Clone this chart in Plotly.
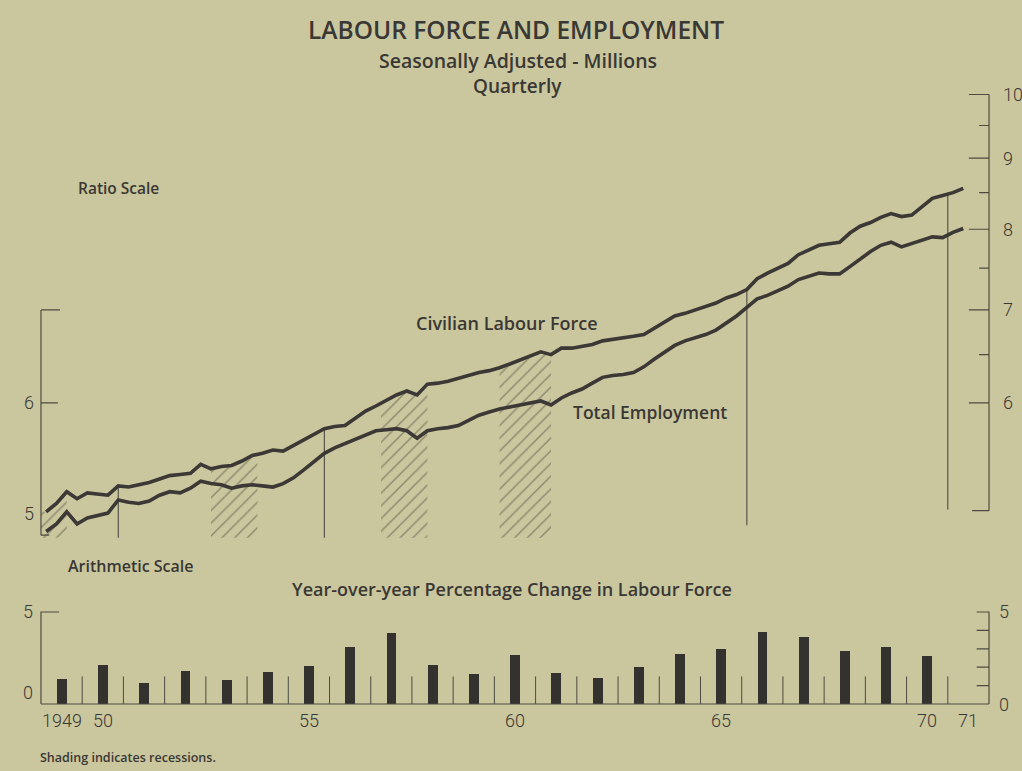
import numpy as np
import plotly.graph_objects as go

# ---------------- data ----------------
first_quarter = 1949.125          # 1949 Q1 (mid-quarter position)
labour_force = [5.01, 5.08, 5.18, 5.12, 5.17, 5.16, 5.15, 5.23, 5.22, 5.24,
                5.26, 5.29, 5.32, 5.33, 5.34, 5.42, 5.38, 5.40, 5.41, 5.45,
                5.50, 5.52, 5.55, 5.54, 5.59, 5.64, 5.70, 5.75, 5.77, 5.78,
                5.85, 5.92, 5.97, 6.02, 6.08, 6.12, 6.08, 6.19, 6.20, 6.22,
                6.25, 6.28, 6.31, 6.33, 6.36, 6.40, 6.44, 6.49, 6.53, 6.50,
                6.57, 6.57, 6.59, 6.61, 6.65, 6.67, 6.68, 6.70, 6.72, 6.79,
                6.87, 6.93, 6.96, 7.00, 7.03, 7.08, 7.14, 7.18, 7.24, 7.37,
                7.44, 7.50, 7.56, 7.67, 7.73, 7.79, 7.81, 7.83, 7.95, 8.04,
                8.09, 8.16, 8.21, 8.17, 8.19, 8.31, 8.42, 8.46, 8.50, 8.56]
employment = [4.85, 4.91, 5.01, 4.91, 4.96, 4.98, 5.00, 5.11, 5.09, 5.08,
              5.10, 5.15, 5.18, 5.17, 5.21, 5.27, 5.25, 5.24, 5.21, 5.23,
              5.24, 5.23, 5.22, 5.25, 5.30, 5.37, 5.44, 5.52, 5.57, 5.61,
              5.65, 5.69, 5.73, 5.74, 5.75, 5.73, 5.66, 5.73, 5.75, 5.76,
              5.78, 5.83, 5.88, 5.91, 5.94, 5.96, 5.98, 6.00, 6.02, 5.98,
              6.05, 6.10, 6.14, 6.20, 6.26, 6.28, 6.29, 6.31, 6.37, 6.45,
              6.52, 6.60, 6.65, 6.68, 6.72, 6.77, 6.85, 6.93, 7.03, 7.13,
              7.17, 7.23, 7.28, 7.36, 7.40, 7.44, 7.43, 7.43, 7.52, 7.62,
              7.71, 7.79, 7.83, 7.77, 7.81, 7.86, 7.90, 7.89, 7.96, 8.01]

years = list(range(1949, 1971))
pct_change = [1.35, 2.10, 1.15, 1.80, 1.30, 1.73, 2.04, 3.06, 3.86, 2.09, 1.64,
              2.67, 1.68, 1.39, 2.00, 2.69, 2.99, 3.90, 3.64, 2.87, 3.08, 2.60]

recession_start = [1949.0, 1953.125, 1957.25, 1960.125]
recession_end = [1949.625, 1954.25, 1958.375, 1961.375]

break_dates = [1950.875, 1955.875, 1966.125, 1971.0]
break_bottoms = [4.80, 4.80, 4.90, 5.03]

x_tick_vals = [1949, 1950, 1955, 1960, 1965, 1970, 1971]
x_tick_text = ["1949", "50", "55", "60", "65", "70", "71"]
left_ratio_ticks = [5, 6]
right_ratio_ticks = [6, 7, 8, 9, 10]
right_ratio_minor = [6.5, 7.5, 8.5, 9.5]
pct_ticks_right = [1, 2, 3, 4, 5]

# ---------------- style ----------------
W, H = 1022, 771
BG = "#cac69e"
INK = "#3a3834"
AX = "#4d4b42"
FONT = "'Open Sans', Lato, sans-serif"
NUMFONT = "Roboto, 'Liberation Sans Narrow', sans-serif"

quarters = first_quarter + 0.25 * np.arange(len(labour_force))

fig = go.Figure()

# recession hatching (bounded by the labour force line)
for s, e in zip(recession_start, recession_end):
    inside = [q for q in quarters if s < q < e]
    xs = [s] + inside + [e]
    ys = list(np.interp(xs, quarters, labour_force))
    xs = xs + [e, s, s]
    ys = ys + [4.80, 4.80, ys[0]]
    fig.add_trace(go.Scatter(
        x=xs, y=ys, mode="lines", line=dict(width=0, color="rgba(0,0,0,0)"),
        fill="toself", fillcolor="rgba(0,0,0,0)",
        fillpattern=dict(shape="/", size=9, solidity=0.16, fgcolor="#4f4d40",
                         bgcolor="rgba(0,0,0,0)"),
        hoverinfo="skip", showlegend=False, xaxis="x", yaxis="y"))

# series-break vertical lines
bx, by = [], []
for d, b in zip(break_dates, break_bottoms):
    top = float(np.interp(d, quarters, labour_force))
    bx += [d, d, None]
    by += [b, top, None]
fig.add_trace(go.Scatter(x=bx, y=by, mode="lines", line=dict(color=AX, width=1.1),
                         hoverinfo="skip", showlegend=False, xaxis="x", yaxis="y"))

# main lines
for series, name in [(labour_force, "Civilian Labour Force"), (employment, "Total Employment")]:
    fig.add_trace(go.Scatter(x=quarters, y=series, mode="lines", name=name,
                             line=dict(color="#3b3835", width=3.6),
                             showlegend=False, xaxis="x", yaxis="y"))

# ratio-scale axis brackets
lx = [1949, 1949, None, 1949, 1949.46, None, 1949, 1949.41, None, 1949, 1949.2]
ly = [4.82, 7.0, None, 7.0, 7.0, None, 6.0, 6.0, None, 4.82, 4.82]
rx = [1972, 1972, None, 1972, 1971.59]
ry = [5.02, 10.0, None, 5.02, 5.02]
for v in right_ratio_ticks:
    rx += [None, 1972, 1971.51]
    ry += [None, v, v]
for v in right_ratio_minor:
    rx += [None, 1972, 1971.76]
    ry += [None, v, v]
fig.add_trace(go.Scatter(x=lx + [None] + rx, y=ly + [None] + ry, mode="lines",
                         line=dict(color=AX, width=1.2), hoverinfo="skip",
                         showlegend=False, xaxis="x", yaxis="y"))

# ---------------- bottom bar chart ----------------
fig.add_trace(go.Bar(x=[y + 0.5 for y in years], y=pct_change, width=0.24,
                     marker=dict(color="#34322e", line=dict(width=0)),
                     showlegend=False, xaxis="x2", yaxis="y2"))

# year separators, baseline and brackets
sx, sy = [], []
for y in range(years[0] + 1, 1972):
    sx += [y, y, None]
    sy += [0, 1.5, None]
fig.add_trace(go.Scatter(x=sx, y=sy, mode="lines", line=dict(color=AX, width=1),
                         hoverinfo="skip", showlegend=False, xaxis="x2", yaxis="y2"))
bxs = [1949, 1972, None, 1949, 1949, 1949.44, None, 1972, 1972, 1971.7]
bys = [0, 0, None, 0, 5, 5, None, 0, 5, 5]
for v in pct_ticks_right[:-1]:
    bxs += [None, 1972, 1971.7]
    bys += [None, v, v]
fig.add_trace(go.Scatter(x=bxs, y=bys, mode="lines", line=dict(color=AX, width=1.2),
                         hoverinfo="skip", showlegend=False, xaxis="x2", yaxis="y2"))

# ---------------- layout ----------------
xdom = [0.03405, 0.97378]
fig.update_layout(
    width=W, height=H, margin=dict(l=0, r=0, t=0, b=0),
    paper_bgcolor=BG, plot_bgcolor="rgba(0,0,0,0)",
    xaxis=dict(domain=xdom, range=[1948.85, 1972.15], visible=False),
    yaxis=dict(domain=[0.2944, 0.8852], type="log",
               range=[np.log10(4.75), np.log10(10.1)], visible=False),
    xaxis2=dict(domain=xdom, range=[1948.85, 1972.15], visible=False, anchor="y2"),
    yaxis2=dict(domain=[0.0821, 0.2110], range=[-0.2, 5.2], visible=False, anchor="x2"),
    bargap=0,
)

def px(x):
    return x / W

def py(y):
    return 1 - y / H

ann = []
def text(t, x, y, size, anchor="center", weight=600, font=FONT):
    ann.append(dict(text=t, x=px(x), y=py(y), xref="paper", yref="paper",
                    xanchor=anchor, yanchor="middle", showarrow=False,
                    font=dict(family=font, size=size, color=INK, weight=weight)))

text("LABOUR FORCE AND EMPLOYMENT", 516, 30, 24.5)
text("Seasonally Adjusted - Millions", 518, 61, 19.5)
text("Quarterly", 517, 86, 19)
text("Ratio Scale", 76, 188, 15.5, "left")
text("Civilian Labour Force", 507, 323, 18)
text("Total Employment", 571, 412, 17.5, "left")
text("Arithmetic Scale", 66, 566, 16, "left")
text("Year-over-year Percentage Change in Labour Force", 512, 589, 18)
text("Shading indicates recessions.", 38, 757, 12.5, "left")

numfont = dict(family=NUMFONT, size=18, color=INK, weight=300)
for v in left_ratio_ticks:
    ann.append(dict(text=str(v), x=1949, y=np.log10(v), xref="x", yref="y",
                    xanchor="right", yanchor="middle", xshift=-5, showarrow=False, font=numfont))
for v in right_ratio_ticks:
    ann.append(dict(text=str(v), x=1972, y=np.log10(v), xref="x", yref="y",
                    xanchor="left", yanchor="middle", xshift=12, showarrow=False, font=numfont))
for v in [0, 5]:
    ann.append(dict(text=str(v), x=1949, y=v, xref="x2", yref="y2",
                    xanchor="right", yanchor="middle", xshift=-6,
                    yshift=12 if v == 0 else 0, showarrow=False, font=numfont))
    ann.append(dict(text=str(v), x=1972, y=v, xref="x2", yref="y2",
                    xanchor="left", yanchor="middle", xshift=8, showarrow=False, font=numfont))
for v, t in zip(x_tick_vals, x_tick_text):
    ann.append(dict(text=t, x=v + 0.5, y=py(720), xref="x2", yref="paper",
                    xanchor="center", yanchor="middle", showarrow=False, font=numfont))

fig.update_layout(annotations=ann)
fig.write_html("out.html", config={"displayModeBar": False},
               post_script="document.body.style.margin='0';document.body.style.overflow='hidden';")
